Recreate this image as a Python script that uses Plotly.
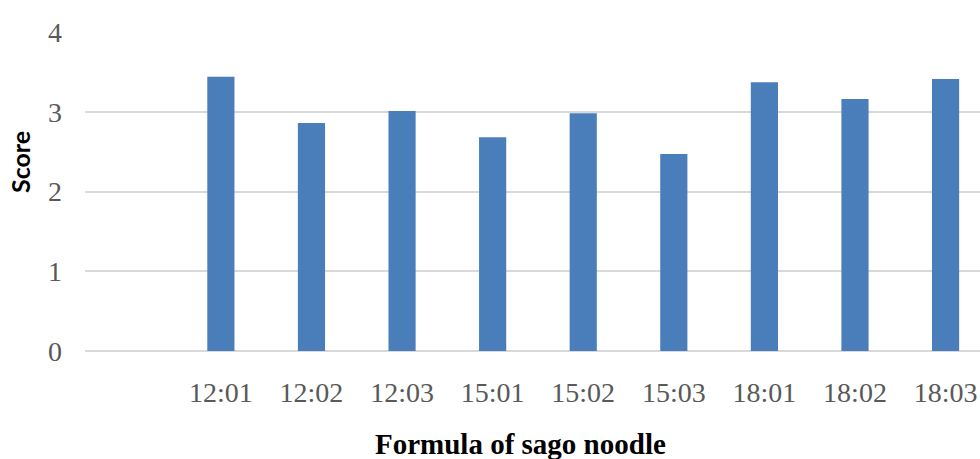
import plotly.graph_objects as go

categories = ["12:01", "12:02", "12:03", "15:01", "15:02", "15:03", "18:01", "18:02", "18:03"]
scores = [3.44, 2.86, 3.01, 2.68, 2.98, 2.47, 3.37, 3.16, 3.41]
y_ticks = [0, 1, 2, 3, 4]

fig = go.Figure(
    go.Bar(
        x=categories,
        y=scores,
        width=0.3,
        marker=dict(color="#4a7ebb", line=dict(width=0)),
    )
)

tick_font = dict(family="Liberation Serif, Times New Roman, serif", size=28, color="#595959")

fig.update_layout(
    width=980,
    height=459,
    margin=dict(l=85, r=0, t=32, b=108),
    paper_bgcolor="white",
    plot_bgcolor="white",
    showlegend=False,
    xaxis=dict(
        type="category",
        range=[-1.5, 8.38],
        automargin=False,
        showgrid=False,
        showline=False,
        zeroline=False,
        ticks="",
        tickfont=tick_font,
        ticklabelstandoff=22,
        ticklabeloverflow="allow",
    ),
    yaxis=dict(
        range=[0, 4],
        automargin=False,
        tickvals=y_ticks,
        showgrid=True,
        gridcolor="#d9d9d9",
        gridwidth=1.5,
        zeroline=True,
        zerolinecolor="#d9d9d9",
        zerolinewidth=1.5,
        showline=False,
        ticks="",
        tickfont=tick_font,
        ticklabelstandoff=22,
    ),
    annotations=[
        dict(
            text="<b>Formula of sago noodle</b>",
            xref="paper", yref="paper",
            x=0.487, y=-0.293,
            xanchor="center", yanchor="middle",
            showarrow=False,
            font=dict(family="Liberation Serif, Times New Roman, serif", size=29, color="black"),
        ),
        dict(
            text="<b>Score</b>",
            xref="paper", yref="paper",
            x=-0.0726, y=0.5925,
            xanchor="center", yanchor="middle",
            textangle=-90,
            showarrow=False,
            font=dict(family="Lato, Open Sans, sans-serif", size=25, color="black"),
        ),
    ],
)

# Remove the default page margin and scrollbars so the figure fills the window exactly.
fig.write_html(
    "out.html",
    config={"displayModeBar": False},
    post_script="document.body.style.margin='0';document.body.style.overflow='hidden';",
)
